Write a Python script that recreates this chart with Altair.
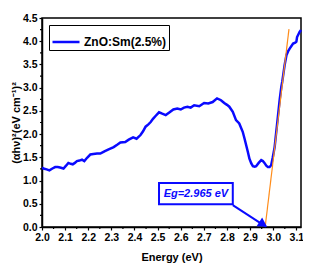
import altair as alt
import pandas as pd

energy = [2.0, 2.006, 2.02, 2.032, 2.045, 2.057, 2.068, 2.078, 2.093, 2.104, 2.114, 2.124, 2.133, 2.142,
          2.151, 2.162, 2.173, 2.183, 2.195, 2.209, 2.222, 2.238, 2.252, 2.27, 2.288, 2.31, 2.325, 2.339,
          2.36, 2.375, 2.394, 2.409, 2.426, 2.437, 2.448, 2.46, 2.47, 2.48, 2.491, 2.506, 2.52, 2.535,
          2.549, 2.568, 2.585, 2.6, 2.614, 2.629, 2.643, 2.658, 2.68, 2.701, 2.719, 2.738, 2.757, 2.774,
          2.788, 2.8, 2.81, 2.825, 2.839, 2.853, 2.868, 2.876, 2.883, 2.89, 2.897, 2.905, 2.912, 2.92,
          2.926, 2.937, 2.948, 2.955, 2.962, 2.97, 2.977, 2.984, 2.991, 2.998, 3.006, 3.013, 3.02, 3.028,
          3.035, 3.039, 3.049, 3.057, 3.064, 3.071, 3.086, 3.095, 3.1, 3.103, 3.108, 3.114, 3.12]
ahv2 = [1.28, 1.26, 1.24, 1.22, 1.26, 1.29, 1.29, 1.28, 1.26, 1.32, 1.38, 1.36, 1.35, 1.38,
        1.42, 1.43, 1.45, 1.42, 1.49, 1.56, 1.57, 1.58, 1.58, 1.63, 1.67, 1.72, 1.77, 1.82,
        1.83, 1.88, 1.93, 1.90, 1.98, 2.06, 2.16, 2.21, 2.26, 2.33, 2.39, 2.47, 2.44, 2.41,
        2.46, 2.53, 2.55, 2.53, 2.57, 2.59, 2.57, 2.62, 2.60, 2.67, 2.66, 2.69, 2.77, 2.73,
        2.67, 2.63, 2.59, 2.48, 2.30, 2.23, 2.05, 1.90, 1.76, 1.62, 1.47, 1.37, 1.31, 1.30,
        1.31, 1.38, 1.44, 1.42, 1.38, 1.32, 1.29, 1.29, 1.33, 1.50, 1.72, 2.05, 2.37, 2.75,
        3.02, 3.13, 3.48, 3.70, 3.78, 3.84, 3.95, 3.97, 3.99, 4.09, 4.14, 4.20, 4.24]
series_name = "ZnO:Sm(2.5%)"

fit_x = [2.965, 3.068]
fit_y = [0.0, 4.26]

eg_label = "Eg=2.965 eV"
box_x = [2.506, 2.825]
box_y = [0.948, 0.489]
arrow_x = [2.825, 2.968]
arrow_y = [0.47, 0.01]
head_x = [2.951]
head_y = [0.075]

x_major = [2.0, 2.1, 2.2, 2.3, 2.4, 2.5, 2.6, 2.7, 2.8, 2.9, 3.0, 3.1]
x_minor = [2.05, 2.15, 2.25, 2.35, 2.45, 2.55, 2.65, 2.75, 2.85, 2.95, 3.05]
y_major = [0.0, 0.5, 1.0, 1.5, 2.0, 2.5, 3.0, 3.5, 4.0, 4.5]
y_minor = [0.25, 0.75, 1.25, 1.75, 2.25, 2.75, 3.25, 3.75, 4.25]

W, H = 259, 209

df = pd.DataFrame({"Energy": energy, "val": ahv2, "series": series_name})
fit = pd.DataFrame({"Energy": fit_x, "val": fit_y})
box = pd.DataFrame({"Energy": [box_x[0]], "x2": [box_x[1]], "val": [box_y[0]], "y2": [box_y[1]],
                    "xm": [(box_x[0] + box_x[1]) / 2], "ym": [(box_y[0] + box_y[1]) / 2], "t": [eg_label]})
arrow = pd.DataFrame({"Energy": arrow_x, "val": arrow_y})
head = pd.DataFrame({"Energy": head_x, "val": head_y})
xmin_df = pd.DataFrame({"Energy": x_minor})
ymin_df = pd.DataFrame({"val": y_minor})

font = "Liberation Sans"
xs = alt.Scale(domain=[2.0, 3.12], nice=False, zero=False)
ys = alt.Scale(domain=[0, 4.5], nice=False)

x_axis = alt.Axis(values=x_major, format=".1f", title="Energy (eV)", grid=False, tickSize=3,
                  labelPadding=2, titlePadding=9, labelFlush=False, labelOverlap=False)
y_axis = alt.Axis(values=y_major, format=".1f", title="(αhν)²(eV cm⁻¹)²", grid=False, tickSize=3,
                  labelPadding=2, titlePadding=1, labelFlush=False, labelOverlap=False)


def X(field="Energy:Q"):
    return alt.X(field, scale=xs, axis=x_axis)


def Y(field="val:Q"):
    return alt.Y(field, scale=ys, axis=y_axis)


main = alt.Chart(df).mark_line(strokeWidth=2.5, color="#0a0aff").encode(
    x=X(), y=Y(),
    color=alt.Color("series:N", scale=alt.Scale(range=["#0a0aff"]),
                    legend=alt.Legend(title=None, orient="top-left", offset=7, padding=2,
                                      strokeColor="black", symbolType="stroke", symbolSize=729,
                                      symbolStrokeWidth=2.5, labelFontSize=12, labelFontWeight="bold",
                                      labelFont=font, labelColor="black", labelOffset=3)),
    order="Energy:Q",
)

fitline = alt.Chart(fit).mark_line(strokeWidth=1.2, color="#ff8c1a").encode(x=X(), y=Y())

rect = alt.Chart(box).mark_rect(fill="white", stroke="#0a0aff", strokeWidth=2).encode(
    x=X(), x2="x2", y=Y(), y2="y2")
txt = alt.Chart(box).mark_text(font=font, fontSize=11, fontWeight="bold", fontStyle="italic",
                               color="#0a0aff").encode(
    x=X("xm:Q"), y=Y("ym:Q"), text="t:N")
arr = alt.Chart(arrow).mark_line(strokeWidth=2, color="#0a0aff").encode(x=X(), y=Y())
hd = alt.Chart(head).mark_point(shape="triangle", filled=True, size=110, angle=122, opacity=1,
                                color="#0a0aff").encode(x=X(), y=Y())

xminor = alt.Chart(xmin_df).mark_rule(color="black", strokeWidth=1.2).encode(
    x=X(), y=alt.value(H), y2=alt.value(H + 2))
yminor = alt.Chart(ymin_df).mark_rule(color="black", strokeWidth=1.2).encode(
    y=Y(), x=alt.value(0), x2=alt.value(-2))

chart = alt.layer(main, fitline, rect, txt, arr, hd, xminor, yminor).properties(
    width=W, height=H,
    autosize=alt.AutoSizeParams(type="none"),
    padding={"left": 34, "top": 10, "right": 2, "bottom": 41},
).configure_view(stroke="black", strokeWidth=1.5).configure_axis(
    domainColor="black", domainWidth=1.5, tickColor="black", tickWidth=1.2,
    labelFont=font, labelFontSize=10.5, labelFontWeight="bold", labelColor="black",
    titleFont=font, titleFontSize=11, titleFontWeight="bold", titleColor="black",
)

chart.save("out.html", embed_options={"renderer": "svg", "actions": False})
